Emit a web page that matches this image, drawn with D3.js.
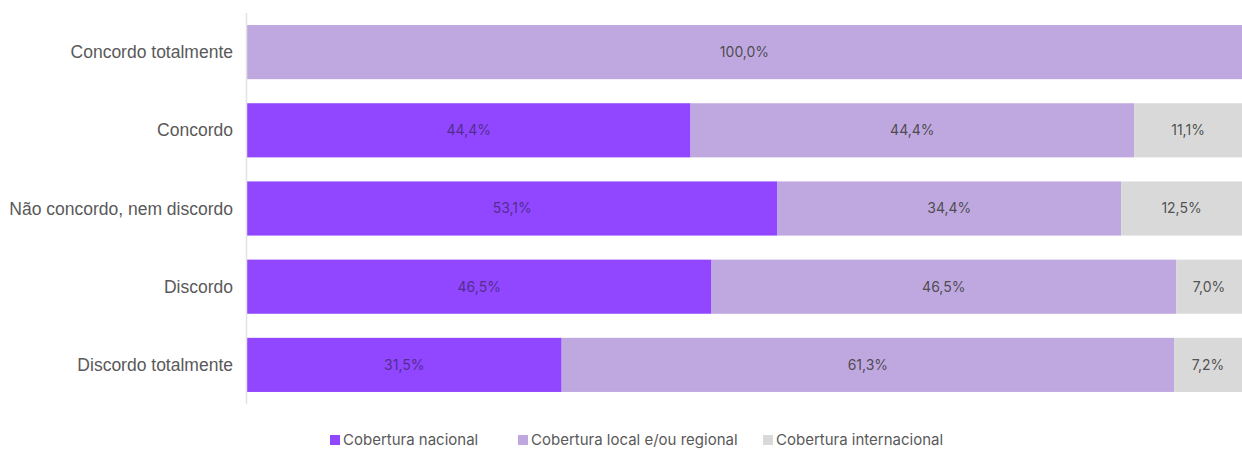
<!DOCTYPE html>
<html>
<head>
<meta charset="utf-8">
<script src="https://cdn.jsdelivr.net/npm/d3@7"></script>
<style>
  body { margin: 0; background: #fff; }
</style>
</head>
<body>
<div id="chart"></div>
<script>
const categories = ["Concordo totalmente", "Concordo", "Não concordo, nem discordo", "Discordo", "Discordo totalmente"];
const seriesNames = ["Cobertura nacional", "Cobertura local e/ou regional", "Cobertura internacional"];
const nacional = [0, 44.4, 53.1, 46.5, 31.5];
const local = [100, 44.4, 34.4, 46.5, 61.3];
const internacional = [0, 11.1, 12.5, 7.0, 7.2];
const colors = ["#9146ff", "#bfa8df", "#d9d9d9"];

const width = 1242, height = 450;
const margin = { top: 13, right: -4, bottom: 46, left: 247 };

const rows = categories.map((c, i) => ({
  cat: c,
  [seriesNames[0]]: nacional[i],
  [seriesNames[1]]: local[i],
  [seriesNames[2]]: internacional[i]
}));

const stack = d3.stack().keys(seriesNames)(rows);

const svg = d3.select("#chart").append("svg")
  .attr("width", width)
  .attr("height", height);

let x = d3.scaleLinear().domain([0, 100]).range([margin.left, width - margin.right]);
let y = d3.scaleBand().domain(categories)
  .range([margin.top, height - margin.bottom])
  .paddingInner(0.3077).paddingOuter(0.154);

// bars
stack.forEach((s, si) => {
  svg.append("g").selectAll("rect")
    .data(s)
    .join("rect")
    .attr("x", d => x(d[0]))
    .attr("y", d => y(d.data.cat))
    .attr("width", d => x(d[1]) - x(d[0]))
    .attr("height", y.bandwidth())
    .attr("fill", colors[si]);

  svg.append("g").selectAll("text")
    .data(s.filter(d => d[1] - d[0] > 0))
    .join("text")
    .attr("x", d => (x(d[0]) + Math.min(x(d[1]), width)) / 2)
    .attr("y", d => y(d.data.cat) + y.bandwidth() / 2)
    .attr("dy", "0.35em")
    .attr("text-anchor", "middle")
    .style("font-family", "Inter, 'Liberation Sans', sans-serif")
    .style("font-size", "14px")
    .attr("fill", si == 0 ? "#4a2a80" : "#404040")
    .attr("fill-opacity", 0.9)
    .text(d => (d[1] - d[0]).toFixed(1).replace(".", ",") + "%");
});

// y axis line
svg.append("line")
  .attr("x1", margin.left - 0.5).attr("x2", margin.left - 0.5)
  .attr("y1", margin.top).attr("y2", height - margin.bottom)
  .attr("stroke", "#e3e3e3")
  .attr("stroke-width", 1.5);

// category labels
svg.append("g").selectAll("text")
  .data(categories)
  .join("text")
  .attr("x", 233)
  .attr("y", d => y(d) + y.bandwidth() / 2)
  .attr("dy", "0.35em")
  .attr("text-anchor", "end")
  .style("font-family", "'Liberation Sans', Arial, sans-serif")
  .style("font-size", "17.5px")
  .attr("fill", "#595959")
  .text(d => d);

// legend
const legendX = [330, 518, 763];
const legend = svg.append("g").selectAll("g")
  .data(seriesNames)
  .join("g")
  .attr("transform", (d, i) => "translate(" + legendX[i] + ",440)");

legend.append("rect")
  .attr("x", 0).attr("y", -5)
  .attr("width", 10).attr("height", 10)
  .attr("fill", (d, i) => colors[i]);

legend.append("text")
  .attr("x", 13)
  .attr("dy", "0.35em")
  .style("font-family", "Inter, 'Liberation Sans', sans-serif")
  .style("font-size", "15px")
  .attr("fill", "#595959")
  .text(d => d);
</script>
</body>
</html>
